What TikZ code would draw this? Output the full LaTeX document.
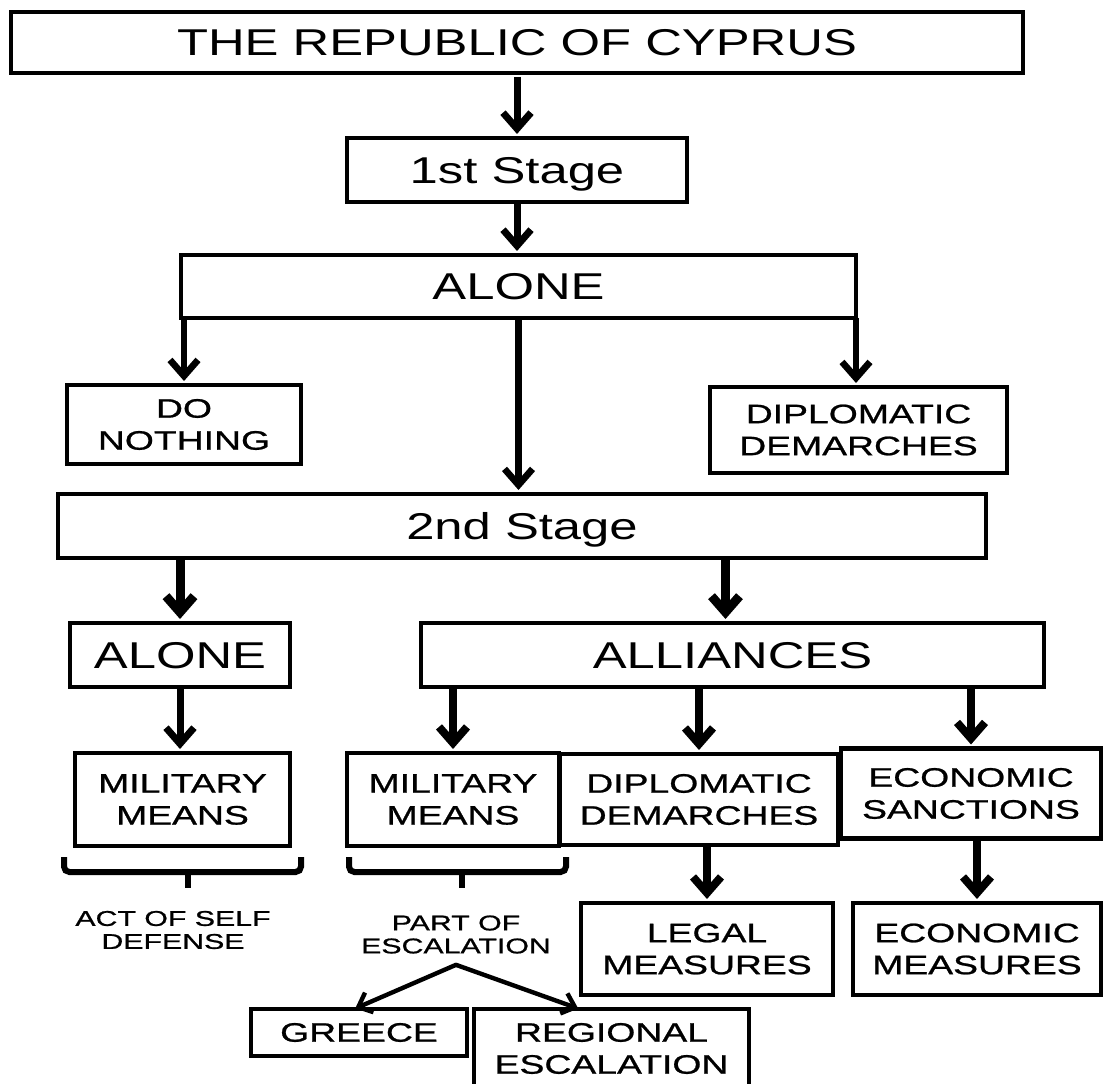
\documentclass[tikz,border=0pt]{standalone}
\usepackage{fontspec}
\setmainfont{Liberation Sans}
\newfontfamily\headfont{Liberation Sans}[FakeStretch=1.36]
\newfontfamily\boxfont{Liberation Sans}[FakeStretch=1.4, FakeBold=0.9]
\newfontfamily\notefont{Liberation Sans}[FakeStretch=1.42, FakeBold=0.9]
\usetikzlibrary{arrows.meta,calc}

\tikzset{
  size/.style 2 args={minimum width=#1*0.75pt, minimum height=#2*0.75pt},
  node base/.style={draw, inner sep=0pt, outer sep=0pt, anchor=center},
  headbox/.style={node base, line width=2.6pt,
    font=\headfont\fontsize{28}{32}\selectfont, text height=20pt, text depth=0pt},
  itembox/.style={node base, line width=3.3pt, align=center,
    font=\boxfont\fontsize{20}{24}\selectfont},
  note/.style={inner sep=0pt, align=center,
    font=\notefont\fontsize{16}{17.25}\selectfont},
  link/.style={line width=#1, shorten >=3pt,
    -{Straight Barb[length=12pt, width=21pt]}},
  link/.default=5.25pt,
  forklink/.style={line width=3.3pt, shorten >=1pt, line cap=round,
    -{Straight Barb[length=9pt, width=16pt]}},
  brace/.style={line width=4.5pt, rounded corners=4pt}
}

\begin{document}
\begin{tikzpicture}[x=0.75pt,y=-0.75pt]

\useasboundingbox (0,0) rectangle (1103,1084);
\clip (0,0) rectangle (1103,1084);
\fill[white] (0,0) rectangle (1103,1084);

% first stage
\node[headbox, size={1012}{61}] (title) at (517,42.5) {THE REPUBLIC OF CYPRUS};
\node[headbox, size={340}{64}] (stage1) at (517,170) {1st Stage};
\node[headbox, size={675}{63}] (aloneA) at (518.5,286.5) {ALONE};
\node[itembox, size={234}{79}] (nothing) at (184,424.5) {DO\\NOTHING};
\node[itembox, size={297}{86}] (demA) at (858.5,430) {DIPLOMATIC\\DEMARCHES};

% second stage
\node[headbox, size={928}{64}] (stage2) at (522,526) {2nd Stage};
\node[headbox, size={220}{64}] (aloneB) at (180,655) {ALONE};
\node[headbox, size={623}{64}] (alliances) at (732.5,655) {ALLIANCES};

\node[itembox, size={215}{93}] (milA) at (182.5,799.5) {MILITARY\\MEANS};
\node[itembox, size={212}{93}] (milB) at (453,799.5) {MILITARY\\MEANS};
\node[itembox, size={278}{91}] (demB) at (699,799.5) {DIPLOMATIC\\DEMARCHES};
\node[itembox, size={260}{90}] (sanctions) at (971,793.5) {ECONOMIC\\SANCTIONS};
\node[itembox, size={252}{92}] (legal) at (707,949) {LEGAL\\MEASURES};
\node[itembox, size={248}{92}] (econ) at (977,949) {ECONOMIC\\MEASURES};

\node[note] (selfdef) at (173,930) {ACT OF SELF\\DEFENSE};
\node[note] (escal) at (456,934.5) {PART OF\\ESCALATION};

\node[itembox, size={216}{47}] (greece) at (359,1032.5) {GREECE};
\node[itembox, size={275}{79}] (regional) at (611.5,1048.5) {REGIONAL\\ESCALATION};

% braces under the two military options
\draw[brace] (64,857) |- (301,872) -- (301,857);
\draw[brace] (188,872) -- (188,888);
\draw[brace] (349,857) |- (566,872) -- (566,857);
\draw[brace] (462,872) -- (462,888);

% connectors of the first stage
\draw[link, shorten <=3pt] (title.south) -- (stage1.north);
\draw[link] (stage1.south) -- (stage1.south |- aloneA.north);
\draw[link=5pt] (nothing.north |- aloneA.south) -- (nothing.north);
\draw[link=5pt] (aloneA.south) -- (aloneA.south |- stage2.north);
\draw[link=5pt] (aloneA.south east) -- (aloneA.south east |- demA.north);

% connectors of the second stage
\coordinate (allin) at ($(alliances.north)+(-7,0)$);
\draw[link=6.75pt] (aloneB.north |- stage2.south) -- (aloneB.north);
\draw[link=6.75pt] (allin |- stage2.south) -- (allin);
\draw[link] (aloneB.south) -- (aloneB.south |- milA.north);
\draw[link=6pt] (milB.north |- alliances.south) -- (milB.north);
\draw[link=6pt] (demB.north |- alliances.south) -- (demB.north);
\draw[link=6pt] (sanctions.north |- alliances.south) -- (sanctions.north);
\draw[link=6pt] (legal.north |- demB.south) -- (legal.north);
\draw[link=6pt] (econ.north |- sanctions.south) -- (econ.north);

% escalation fork
\coordinate (fork) at ($(escal.south)+(0,11)$);
\coordinate (regin) at ($(regional.north)+(-32,0)$);
\draw[forklink] (fork) -- ($(greece.north)+(-5,0)$);
\draw[forklink] (fork) -- (regin);
\end{tikzpicture}
\end{document}
